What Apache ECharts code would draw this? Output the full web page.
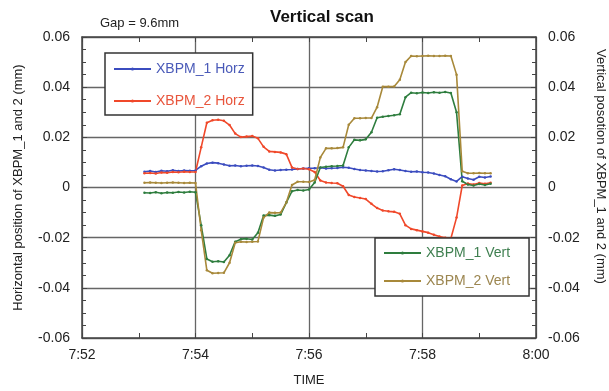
<!DOCTYPE html>
<html>
<head>
<meta charset="utf-8">
<script src="https://cdn.jsdelivr.net/npm/echarts@6.0.0/dist/echarts.min.js"></script>
<style>
	html, body { margin: 0; padding: 0; background: #fff; }
	#main { width: 609px; height: 391px; }
</style>
</head>
<body>
<div id="main"></div>
<script>
// sample times, minutes after midnight (7:53.1 .. 7:59.2)
var times = [473.1, 473.2, 473.3, 473.4, 473.5, 473.6, 473.7, 473.8, 473.9, 474.0,
	474.1, 474.2, 474.3, 474.4, 474.5, 474.6, 474.7, 474.8, 474.9, 475.0,
	475.1, 475.2, 475.3, 475.4, 475.5, 475.6, 475.7, 475.8, 475.9, 476.0,
	476.1, 476.2, 476.3, 476.4, 476.5, 476.6, 476.7, 476.8, 476.9, 477.0,
	477.1, 477.2, 477.3, 477.4, 477.5, 477.6, 477.7, 477.8, 477.9, 478.0,
	478.1, 478.2, 478.3, 478.4, 478.5, 478.6, 478.7, 478.8, 478.9, 479.0,
	479.1, 479.2];

// XBPM_1 Horz (mm)
var horz1 = [0.0063, 0.0066, 0.0062, 0.0067, 0.0065, 0.0069, 0.0066, 0.0068, 0.0067, 0.0068,
	0.0085, 0.0096, 0.0099, 0.0097, 0.0092, 0.0087, 0.0088, 0.0085, 0.0087, 0.0088,
	0.0086, 0.0080, 0.0071, 0.0068, 0.0070, 0.0071, 0.0072, 0.0074, 0.0076, 0.0077,
	0.0077, 0.0079, 0.0076, 0.0077, 0.0078, 0.0081, 0.0079, 0.0074, 0.0070, 0.0068,
	0.0066, 0.0064, 0.0065, 0.0069, 0.0073, 0.0070, 0.0066, 0.0063, 0.0064, 0.0061,
	0.0060, 0.0056, 0.0050, 0.0045, 0.0033, 0.0024, 0.0043, 0.0036, 0.0031, 0.0043,
	0.0040, 0.0044];

// XBPM_2 Horz (mm)
var horz2 = [0.0057, 0.0058, 0.0056, 0.0060, 0.0059, 0.0062, 0.0061, 0.0063, 0.0062, 0.0062,
	0.0160, 0.0258, 0.0268, 0.0270, 0.0266, 0.0249, 0.0215, 0.0201, 0.0203, 0.0205,
	0.0196, 0.0162, 0.0144, 0.0142, 0.0140, 0.0133, 0.0080, 0.0074, 0.0076, 0.0073,
	0.0062, 0.0028, 0.0020, 0.0018, 0.0017, 0.0005, -0.0030, -0.0038, -0.0042, -0.0046,
	-0.0065, -0.0082, -0.0092, -0.0095, -0.0097, -0.0105, -0.0150, -0.0165, -0.0170, -0.0175,
	-0.0180, -0.0188, -0.0195, -0.0200, -0.0203, -0.0120, 0.0008, 0.0016, 0.0012, 0.0018,
	0.0015, 0.0019];

// XBPM_1 Vert (mm)
var vert1 = [-0.0021, -0.0022, -0.0019, -0.0023, -0.0020, -0.0021, -0.0018, -0.0020, -0.0017, -0.0019,
	-0.0150, -0.0285, -0.0296, -0.0294, -0.0297, -0.0270, -0.0216, -0.0206, -0.0204, -0.0207,
	-0.0180, -0.0112, -0.0110, -0.0113, -0.0108, -0.0060, -0.0015, -0.0010, -0.0012, -0.0008,
	0.0020, 0.0080, 0.0083, 0.0085, 0.0086, 0.0088, 0.0160, 0.0190, 0.0188, 0.0192,
	0.0220, 0.0278, 0.0282, 0.0285, 0.0288, 0.0292, 0.0360, 0.0378, 0.0376, 0.0379,
	0.0377, 0.0380, 0.0378, 0.0381, 0.0377, 0.0300, 0.0025, 0.0012, 0.0008, 0.0014,
	0.0010, 0.0015];

// XBPM_2 Vert (mm)
var vert2 = [0.0019, 0.0020, 0.0019, 0.0018, 0.0019, 0.0020, 0.0019, 0.0018, 0.0019, 0.0018,
	-0.0170, -0.0330, -0.0342, -0.0341, -0.0340, -0.0300, -0.0220, -0.0216, -0.0217, -0.0216,
	-0.0215, -0.0120, -0.0100, -0.0101, -0.0100, -0.0060, 0.0010, 0.0023, 0.0023, 0.0022,
	0.0030, 0.0120, 0.0156, 0.0156, 0.0157, 0.0160, 0.0250, 0.0276, 0.0276, 0.0277,
	0.0277, 0.0320, 0.0402, 0.0402, 0.0403, 0.0430, 0.0500, 0.0524, 0.0523, 0.0524,
	0.0525, 0.0524, 0.0524, 0.0525, 0.0524, 0.0450, 0.0065, 0.0057, 0.0057, 0.0058,
	0.0057, 0.0057];

var seriesNames = ['XBPM_1 Horz', 'XBPM_2 Horz', 'XBPM_1 Vert', 'XBPM_2 Vert'];
var lineColors = ['#3b4cbf', '#f0482a', '#2e7d3e', '#a8893a'];
var textColors = ['#4a5ab8', '#e8553c', '#3f7f50', '#9c8650'];

var font = 'Liberation Sans, Arial, sans-serif';

// zip times with values
function pairs(vals) {
	var out = [];
	for (var i = 0; i < times.length; i++) {
		out.push([times[i], vals[i]]);
	}
	return out;
}

// minutes -> h:mm
function fmtTime(v) {
	var h = Math.floor(v / 60);
	var m = Math.round(v - h * 60);
	return h + ':' + (m < 10 ? '0' + m : m);
}

function fmtVal(v) {
	if (Math.abs(v) < 1e-9) return '0';
	return v.toFixed(2);
}

function makeX(pos, showLabel) {
	return {
		type: 'value',
		position: pos,
		min: 472,
		max: 480,
		interval: 2,
		name: showLabel ? 'TIME' : '',
		nameLocation: 'middle',
		nameGap: 36,
		nameTextStyle: { color: '#222', fontSize: 13, fontFamily: font },
		axisLine: { show: true, onZero: false, lineStyle: { color: '#444', width: 1.5 } },
		axisTick: { show: true, inside: true, length: 5, lineStyle: { color: '#444' } },
		minorTick: { show: true, splitNumber: 2, length: 5, lineStyle: { color: '#444' } },
		axisLabel: { show: showLabel, formatter: fmtTime, color: '#222', fontSize: 14, fontFamily: font, margin: 10 },
		splitLine: { show: showLabel, lineStyle: { color: '#666', width: 1.3 } }
	};
}

function makeY(pos, name, showSplit) {
	return {
		type: 'value',
		position: pos,
		min: -0.06,
		max: 0.06,
		interval: 0.02,
		name: name,
		nameLocation: 'middle',
		nameGap: pos == 'left' ? 57 : 58,
		nameRotate: pos == 'left' ? 90 : -90,
		nameTextStyle: {
			color: '#222', fontSize: 13, fontFamily: font,
			padding: pos == 'left' ? [0, 0, 0, 0] : [0, 42, 0, 0]
		},
		axisLine: { show: true, onZero: false, lineStyle: { color: '#444', width: 1.5 } },
		axisTick: { show: true, inside: true, length: 5, lineStyle: { color: '#444' } },
		minorTick: { show: true, splitNumber: 4, length: 4, lineStyle: { color: '#444' } },
		axisLabel: { formatter: fmtVal, color: '#222', fontSize: 14, fontFamily: font, margin: 12 },
		splitLine: { show: showSplit, lineStyle: { color: '#666', width: 1.3 } }
	};
}

function makeLegend(idx, left, top, gap, pad) {
	return {
		orient: 'vertical',
		left: left,
		top: top,
		itemGap: gap,
		itemWidth: 37,
		itemHeight: 4,
		padding: pad,
		backgroundColor: '#fff',
		borderColor: '#333',
		borderWidth: 1.5,
		borderRadius: 0,
		selectedMode: false,
		data: [
			{ name: seriesNames[idx], textStyle: { color: textColors[idx] } },
			{ name: seriesNames[idx + 1], textStyle: { color: textColors[idx + 1] } }
		],
		textStyle: { fontSize: 14, fontFamily: font }
	};
}

var series = [];
var allVals = [horz1, horz2, vert1, vert2];
for (var s = 0; s < 4; s++) {
	series.push({
		name: seriesNames[s],
		type: 'line',
		yAxisIndex: s < 2 ? 0 : 1,
		data: pairs(allVals[s]),
		symbol: 'circle',
		symbolSize: 2.5,
		showSymbol: true,
		lineStyle: { color: lineColors[s], width: 1.6 },
		itemStyle: { color: lineColors[s] },
		z: 3
	});
}

var option = {
	animation: false,
	backgroundColor: '#fff',
	title: [{
		text: 'Vertical scan',
		left: 265,
		top: 4,
		textStyle: { fontSize: 17, fontWeight: 'bold', color: '#111', fontFamily: font }
	}, {
		text: 'Gap = 9.6mm',
		left: 95,
		top: 12,
		textStyle: { fontSize: 13, fontWeight: 'normal', color: '#222', fontFamily: font }
	}],
	// fixed plot box, no auto shrinking for the axis names
	grid: { left: 82, right: 73, top: 37, bottom: 53, outerBoundsMode: 'none' },
	legend: [
		makeLegend(0, 105, 53, 18, [9, 8, 7, 8]),
		makeLegend(2, 375, 238, 14, [8, 19, 8, 8])
	],
	xAxis: [makeX('bottom', true), makeX('top', false)],
	yAxis: [
		makeY('left', 'Horizontal position of XBPM_1 and 2 (mm)', true),
		makeY('right', 'Vertical posotion of XBPM_1 and 2 (mm)', false)
	],
	series: series
};

var myChart = echarts.init(document.getElementById('main'));
myChart.setOption(option);
</script>
</body>
</html>
